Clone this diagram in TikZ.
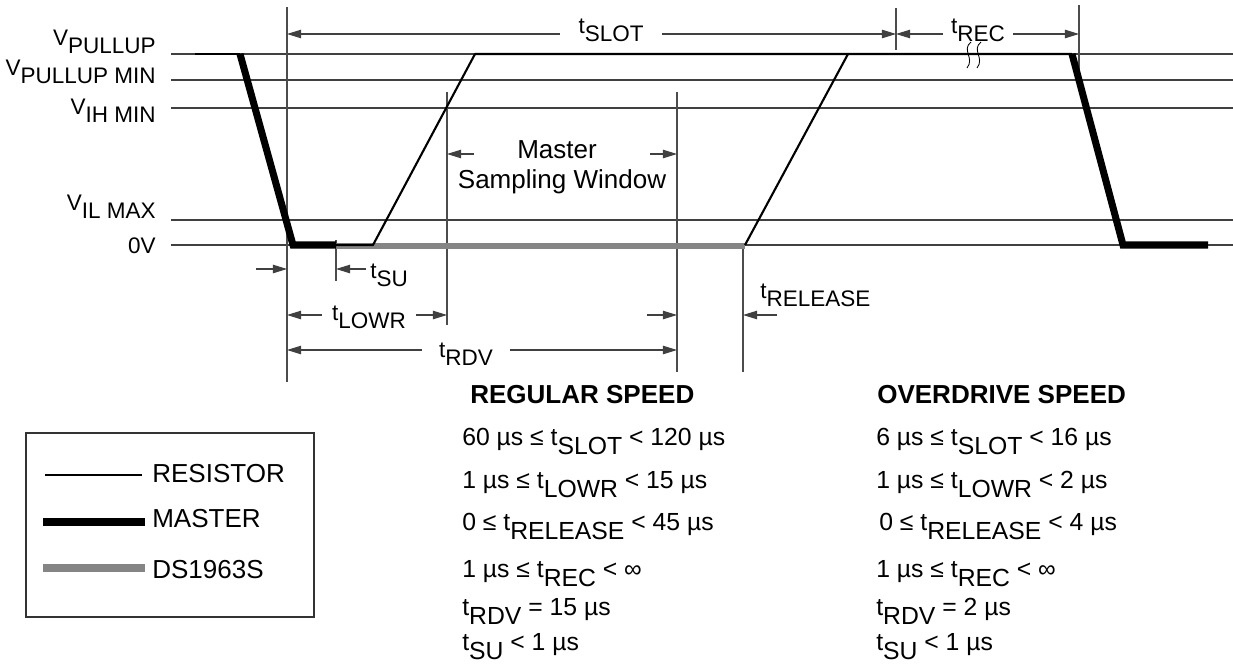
\documentclass[tikz,border=0pt]{standalone}
\usepackage{fontspec}
\setmainfont{Liberation Sans}
\usetikzlibrary{arrows.meta,positioning}
\tikzset{>={Triangle[length=10pt,width=6pt]}}
\tikzstyle{level}=[draw=black!75,line width=0.8pt]
\tikzstyle{guide}=[draw=black!70,line width=0.8pt]
\tikzstyle{resistor}=[draw=black,line width=1.5pt]
\tikzstyle{master}=[draw=black,line width=5pt]
\tikzstyle{slave}=[draw=black!48,line width=4.5pt]
\tikzstyle{dim}=[->,draw=black!75,line width=0.8pt]
\tikzstyle{lvl}=[anchor=base east,inner sep=0pt,font=\fontsize{16}{19}\selectfont]
\tikzstyle{tlbl}=[anchor=base,inner ysep=0pt,font=\fontsize{16}{19}\selectfont]
\tikzstyle{row}=[anchor=base west,inner sep=0pt,font=\fontsize{17.6}{21}\selectfont]
\tikzstyle{head}=[anchor=base west,inner sep=0pt,font=\fontsize{18.5}{22}\selectfont\bfseries]
\tikzstyle{legend}=[anchor=west,inner sep=0pt,font=\fontsize{18.5}{22}\selectfont]
\newcommand{\subtxt}[1]{\raisebox{-0.38em}{#1}}

\begin{document}
\begin{tikzpicture}[x=0.025cm,y=-0.025cm]
	\useasboundingbox (0,0) rectangle (1233,664);
	\def \yPU {54}
	\def \yPM {80}
	\def \yIH {108}
	\def \yIL {220}
	\def \yZ {245}

	% voltage levels
	\draw[level] (171,\yPU) -- (1233,\yPU);
	\draw[level] (171,\yPM) -- (1233,\yPM);
	\draw[level] (171,\yIH) -- (1233,\yIH);
	\draw[level] (171,\yIL) -- (1233,\yIL);
	\draw[level] (171,\yZ) -- (1233,\yZ);

	\node[lvl] (vpu) at (156,45) {V\subtxt{PULLUP}};
	\node[lvl] (vpm) at (156,75) {V\subtxt{PULLUP MIN}};
	\node[lvl] (vih) at (156,114) {V\subtxt{IH MIN}};
	\node[lvl] (vil) at (156,210) {V\subtxt{IL MAX}};
	\node[lvl] (vz) at (156,253) {0V};

	% guides
	\draw[guide] (287,7) -- (287,382);
	\draw[guide] (336,240) -- (336,281);
	\draw[guide] (447,92) -- (447,325);
	\draw[guide] (677,92) -- (677,372);
	\draw[guide] (743,247) -- (743,372);
	\draw[guide] (896,8) -- (896,50);
	\draw[guide] (1079,5) -- (1079,70);

	% waveforms
	\draw[slave] (336,246) -- (745,246);
	\draw[resistor] (195,\yPU) -- (240,\yPU);
	\draw[resistor,line join=round] (336,\yZ) -- (373,\yZ) -- (475,\yPU) -- (1072,\yPU);
	\draw[resistor] (745,\yZ) -- (848,\yPU);
	\draw[master] (240,\yPU) -- (293,\yZ) -- (336,\yZ);
	\draw[master] (1072,\yPU) -- (1123,\yZ) -- (1208,\yZ);
	\draw[line width=0.6pt] (971,42) .. controls (961,50) and (975,58) .. (967,68);
	\draw[line width=0.6pt] (981,42) .. controls (971,50) and (985,58) .. (977,68);

	% timing marks
	\coordinate (a0) at (287,34);
	\coordinate (a1) at (896,34);
	\coordinate (a2) at (1079,34);
	\node[tlbl,inner xsep=0.45cm] (tslot) at (611,33) {t\subtxt{SLOT}};
	\node[tlbl,inner xsep=0.2cm] (trec) at (978,33) {t\subtxt{REC}};
	\draw[dim] (tslot.west |- a0) -- (a0);
	\draw[dim] (tslot.east |- a1) -- (a1);
	\draw[dim] (trec.west |- a1) -- (a1);
	\draw[dim] (trec.east |- a2) -- (a2);

	\node[font=\fontsize{18.5}{22}\selectfont,anchor=base,inner sep=0pt] (msw1) at (557,158) {Master};
	\node[font=\fontsize{18.5}{22}\selectfont,anchor=base,inner sep=0pt] (msw2) at (562,188) {Sampling Window};
	\coordinate (w0) at (447,154);
	\coordinate (w1) at (677,154);
	\draw[dim] (474,154) -- (w0);
	\draw[dim] (650,154) -- (w1);

	\coordinate (b0) at (287,269);
	\coordinate (b1) at (336,269);
	\node[tlbl,anchor=base west,inner xsep=0.1cm] (tsu) at (366,278) {t\subtxt{SU}};
	\draw[dim] (256,269) -- (b0);
	\draw[dim] (tsu.west |- b1) -- (b1);

	\coordinate (c0) at (287,315);
	\coordinate (c1) at (447,315);
	\coordinate (c2) at (677,315);
	\coordinate (c3) at (743,315);
	\node[tlbl,inner xsep=0.25cm] (tlowr) at (369,320) {t\subtxt{LOWR}};
	\draw[dim] (tlowr.west |- c0) -- (c0);
	\draw[dim] (tlowr.east |- c1) -- (c1);
	\node[tlbl,anchor=base west,inner xsep=0pt] (trel) at (760,298) {t\subtxt{RELEASE}};
	\draw[dim] (647,315) -- (c2);
	\draw[dim] (777,315) -- (c3);

	\coordinate (d0) at (287,350);
	\coordinate (d1) at (677,350);
	\node[tlbl,inner xsep=0.42cm] (trdv) at (466,357) {t\subtxt{RDV}};
	\draw[dim] (trdv.west |- d0) -- (d0);
	\draw[dim] (trdv.east |- d1) -- (d1);

	% legend
	\draw[black!80,line width=0.8pt] (26,433) rectangle (314,617);
	\node[legend] (lres) at (152,474) {RESISTOR};
	\node[legend] (lmas) at (152,519) {MASTER};
	\node[legend] (lds) at (152,570) {DS1963S};
	\draw[resistor] (45,475) -- (142,475);
	\draw[master,line width=6pt] (43,522) -- (145,522);
	\draw[slave,line width=6pt] (43,568) -- (145,568);

	% regular speed
	\node[head] (reg) at (470,403) {REGULAR SPEED};
	\node[row] (reg1) at (462,445) {60 µs ≤ t\subtxt{SLOT} < 120 µs};
	\node[row] (reg2) at (462,488) {1 µs ≤ t\subtxt{LOWR} < 15 µs};
	\node[row] (reg3) at (462,530) {0 ≤ t\subtxt{RELEASE} < 45 µs};
	\node[row] (reg4) at (462,577) {1 µs ≤ t\subtxt{REC} < ∞};
	\node[row] (reg5) at (462,615) {t\subtxt{RDV} = 15 µs};
	\node[row] (reg6) at (462,650) {t\subtxt{SU} < 1 µs};

	% overdrive speed
	\node[head] (od) at (877,403) {OVERDRIVE SPEED};
	\node[row] (od1) at (876,445) {6 µs ≤ t\subtxt{SLOT} < 16 µs};
	\node[row] (od2) at (876,488) {1 µs ≤ t\subtxt{LOWR} < 2 µs};
	\node[row] (od3) at (879,530) {0 ≤ t\subtxt{RELEASE} < 4 µs};
	\node[row] (od4) at (876,577) {1 µs ≤ t\subtxt{REC} < ∞};
	\node[row] (od5) at (876,615) {t\subtxt{RDV} = 2 µs};
	\node[row] (od6) at (876,650) {t\subtxt{SU} < 1 µs};
\end{tikzpicture}
\end{document}
